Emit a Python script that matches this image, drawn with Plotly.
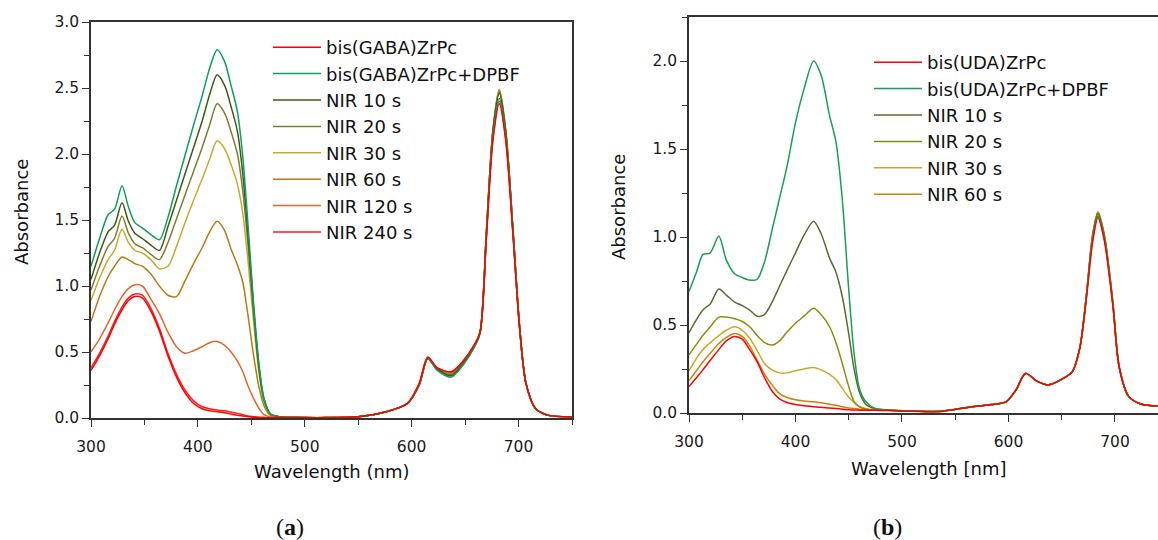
import plotly.graph_objects as go

# ---------------- data: panel (a) ----------------
WL_A = [300, 308, 316, 322, 329, 335, 341, 348, 356, 364, 372, 380, 388, 396, 404, 411, 418, 425, 431, 437,
        442, 447, 452, 457, 462, 468, 476, 490, 520, 550, 575, 596, 607, 615, 624, 637, 648, 659, 664, 670,
        676, 682, 688, 695, 701, 707, 716, 728, 750]

A_GABA = [0.36, 0.47, 0.60, 0.71, 0.82, 0.89, 0.92, 0.91, 0.81, 0.66, 0.47, 0.31, 0.19, 0.11, 0.07, 0.055, 0.048, 0.04, 0.03, 0.02,
          0.015, 0.01, 0.006, 0.004, 0.003, 0.002, 0.003, 0.002, 0.002, 0.01, 0.045, 0.11, 0.26, 0.46, 0.38, 0.35, 0.43, 0.56, 0.65, 1.38,
          2.10, 2.38, 2.10, 1.36, 0.68, 0.26, 0.07, 0.02, 0.01]
A_DPBF = [1.15, 1.36, 1.54, 1.58, 1.76, 1.60, 1.48, 1.44, 1.39, 1.35, 1.52, 1.76, 1.99, 2.22, 2.44, 2.65, 2.79, 2.70, 2.52, 2.32,
          1.98, 1.45, 0.88, 0.42, 0.14, 0.03, 0.01, 0.005, 0.003, 0.01, 0.045, 0.11, 0.25, 0.45, 0.36, 0.31, 0.40, 0.54, 0.64, 1.40,
          2.14, 2.42, 2.14, 1.38, 0.68, 0.26, 0.07, 0.02, 0.01]
A_10 = [1.05, 1.25, 1.41, 1.46, 1.63, 1.49, 1.40, 1.36, 1.31, 1.27, 1.45, 1.65, 1.85, 2.05, 2.25, 2.45, 2.60, 2.52, 2.36, 2.17,
        1.85, 1.38, 0.85, 0.40, 0.14, 0.03, 0.01, 0.005, 0.003, 0.01, 0.045, 0.11, 0.25, 0.45, 0.37, 0.32, 0.41, 0.55, 0.65, 1.42,
        2.17, 2.46, 2.17, 1.40, 0.69, 0.26, 0.07, 0.02, 0.01]
A_20 = [0.97, 1.15, 1.30, 1.36, 1.53, 1.40, 1.32, 1.29, 1.24, 1.20, 1.33, 1.51, 1.69, 1.87, 2.05, 2.22, 2.38, 2.31, 2.17, 2.00,
        1.72, 1.30, 0.80, 0.38, 0.13, 0.03, 0.01, 0.005, 0.003, 0.01, 0.045, 0.11, 0.25, 0.45, 0.37, 0.33, 0.42, 0.55, 0.65, 1.42,
        2.18, 2.48, 2.18, 1.40, 0.69, 0.26, 0.07, 0.02, 0.01]
A_30 = [0.89, 1.06, 1.20, 1.27, 1.43, 1.33, 1.27, 1.25, 1.20, 1.13, 1.15, 1.30, 1.48, 1.65, 1.81, 1.96, 2.10, 2.04, 1.92, 1.77,
        1.55, 1.18, 0.74, 0.35, 0.12, 0.03, 0.01, 0.005, 0.003, 0.01, 0.045, 0.11, 0.25, 0.45, 0.37, 0.33, 0.42, 0.55, 0.65, 1.42,
        2.18, 2.49, 2.18, 1.40, 0.69, 0.26, 0.07, 0.02, 0.01]
A_60 = [0.73, 0.92, 1.07, 1.15, 1.22, 1.20, 1.17, 1.15, 1.09, 1.00, 0.93, 0.92, 1.04, 1.17, 1.29, 1.41, 1.49, 1.42, 1.28, 1.16,
        1.03, 0.77, 0.48, 0.24, 0.09, 0.02, 0.005, 0.004, 0.003, 0.01, 0.045, 0.11, 0.25, 0.45, 0.37, 0.33, 0.42, 0.55, 0.65, 1.42,
        2.18, 2.49, 2.18, 1.40, 0.69, 0.26, 0.07, 0.02, 0.01]
A_120 = [0.50, 0.60, 0.72, 0.82, 0.92, 0.98, 1.01, 1.00, 0.90, 0.79, 0.65, 0.54, 0.49, 0.51, 0.54, 0.57, 0.58, 0.55, 0.50, 0.43,
         0.35, 0.24, 0.15, 0.075, 0.025, 0.008, 0.004, 0.003, 0.003, 0.01, 0.045, 0.11, 0.25, 0.45, 0.37, 0.34, 0.42, 0.55, 0.65, 1.40,
         2.16, 2.47, 2.16, 1.39, 0.69, 0.26, 0.07, 0.02, 0.01]
A_240 = [0.38, 0.49, 0.62, 0.73, 0.84, 0.91, 0.94, 0.93, 0.83, 0.68, 0.49, 0.33, 0.21, 0.13, 0.085, 0.07, 0.06, 0.055, 0.045, 0.035,
         0.025, 0.015, 0.01, 0.006, 0.004, 0.003, 0.003, 0.002, 0.002, 0.01, 0.045, 0.11, 0.26, 0.46, 0.38, 0.35, 0.43, 0.56, 0.65, 1.39,
         2.12, 2.40, 2.12, 1.37, 0.68, 0.26, 0.07, 0.02, 0.01]

NAMES_A = ["bis(GABA)ZrPc", "bis(GABA)ZrPc+DPBF", "NIR 10 s", "NIR 20 s", "NIR 30 s", "NIR 60 s", "NIR 120 s", "NIR 240 s"]
SERIES_A = [A_GABA, A_DPBF, A_10, A_20, A_30, A_60, A_120, A_240]
COLORS_A = ["#FF0000", "#0E9F5B", "#3D5A16", "#7F7C34", "#C9A833", "#B97A14", "#E2662A", "#FF1A1A"]

# ---------------- data: panel (b) ----------------
WL_B = [300, 307, 313, 320, 328, 335, 343, 350, 357, 364, 371, 378, 385, 392, 400, 408, 417, 424, 432, 438,
        444, 450, 455, 460, 466, 474, 488, 510, 535, 566, 590, 598, 607, 616, 627, 638, 651, 660, 667, 673,
        679, 684, 690, 698, 704, 713, 725, 740]

B_UDA = [0.15, 0.20, 0.245, 0.30, 0.36, 0.41, 0.435, 0.42, 0.36, 0.29, 0.20, 0.125, 0.08, 0.06, 0.048, 0.041, 0.036, 0.033, 0.028, 0.025,
         0.022, 0.018, 0.017, 0.016, 0.015, 0.015, 0.014, 0.01, 0.008, 0.036, 0.052, 0.064, 0.13, 0.225, 0.18, 0.16, 0.195, 0.235, 0.37, 0.64,
         0.97, 1.11, 0.98, 0.61, 0.26, 0.093, 0.05, 0.04]
B_DPBF = [0.69, 0.80, 0.90, 0.91, 1.005, 0.87, 0.79, 0.77, 0.755, 0.76, 0.86, 1.04, 1.22, 1.40, 1.65, 1.84, 2.00, 1.92, 1.69, 1.54,
          1.21, 0.70, 0.34, 0.14, 0.065, 0.028, 0.017, 0.012, 0.01, 0.036, 0.052, 0.064, 0.13, 0.225, 0.18, 0.16, 0.195, 0.235, 0.37, 0.65,
          0.99, 1.12, 0.99, 0.62, 0.26, 0.093, 0.05, 0.04]
B_10 = [0.456, 0.53, 0.585, 0.62, 0.705, 0.67, 0.63, 0.61, 0.585, 0.55, 0.56, 0.63, 0.72, 0.81, 0.91, 1.01, 1.09, 1.02, 0.88, 0.80,
        0.66, 0.45, 0.25, 0.12, 0.05, 0.026, 0.016, 0.011, 0.009, 0.036, 0.052, 0.064, 0.13, 0.225, 0.18, 0.16, 0.195, 0.235, 0.37, 0.66,
        1.00, 1.13, 1.00, 0.62, 0.26, 0.093, 0.05, 0.04]
B_20 = [0.33, 0.39, 0.44, 0.49, 0.545, 0.545, 0.535, 0.52, 0.49, 0.44, 0.40, 0.386, 0.41, 0.46, 0.51, 0.55, 0.595, 0.56, 0.49, 0.40,
        0.28, 0.15, 0.065, 0.035, 0.022, 0.017, 0.015, 0.011, 0.009, 0.036, 0.052, 0.064, 0.13, 0.225, 0.18, 0.16, 0.195, 0.235, 0.37, 0.66,
        1.01, 1.14, 1.01, 0.63, 0.26, 0.093, 0.05, 0.04]
B_30 = [0.24, 0.31, 0.36, 0.40, 0.44, 0.47, 0.49, 0.47, 0.425, 0.355, 0.28, 0.245, 0.228, 0.228, 0.24, 0.25, 0.258, 0.245, 0.22, 0.19,
        0.14, 0.09, 0.06, 0.037, 0.025, 0.018, 0.015, 0.011, 0.009, 0.036, 0.052, 0.064, 0.13, 0.225, 0.18, 0.16, 0.195, 0.235, 0.37, 0.66,
        1.01, 1.14, 1.01, 0.63, 0.26, 0.093, 0.05, 0.04]
B_60 = [0.184, 0.24, 0.29, 0.34, 0.395, 0.43, 0.452, 0.435, 0.38, 0.30, 0.22, 0.16, 0.11, 0.088, 0.075, 0.068, 0.064, 0.058, 0.05, 0.044,
        0.036, 0.029, 0.025, 0.022, 0.02, 0.018, 0.015, 0.011, 0.009, 0.036, 0.052, 0.064, 0.13, 0.225, 0.18, 0.16, 0.195, 0.235, 0.37, 0.66,
        1.01, 1.14, 1.01, 0.63, 0.26, 0.093, 0.05, 0.04]

NAMES_B = ["bis(UDA)ZrPc", "bis(UDA)ZrPc+DPBF", "NIR 10 s", "NIR 20 s", "NIR 30 s", "NIR 60 s"]
SERIES_B = [B_UDA, B_DPBF, B_10, B_20, B_30, B_60]
COLORS_B = ["#FF0000", "#1A9E55", "#5A6B2E", "#8C8C10", "#CCA62A", "#C8860A"]

X_TICKS = [300, 400, 500, 600, 700]
XLABEL_A = "Wavelength (nm)"
XLABEL_B = "Wavelength [nm]"
YLABEL = "Absorbance"

# ---------------- figure ----------------
W, H = 1158, 540
FONT = "DejaVu Sans, Liberation Sans, Arial, sans-serif"

fig = go.Figure()

# draw in reverse so the first legend entry sits on top
for name, ys, col in reversed(list(zip(NAMES_A, SERIES_A, COLORS_A))):
    fig.add_trace(go.Scatter(x=WL_A, y=ys, name=name, mode="lines",
                             line=dict(color=col, width=1.5, shape="spline", smoothing=0.8),
                             xaxis="x", yaxis="y", legend="legend"))
for name, ys, col in reversed(list(zip(NAMES_B, SERIES_B, COLORS_B))):
    fig.add_trace(go.Scatter(x=WL_B, y=ys, name=name, mode="lines",
                             line=dict(color=col, width=1.5, shape="spline", smoothing=0.8),
                             xaxis="x2", yaxis="y2", legend="legend2"))


def px(x):
    return x / W


def py(y):
    return 1 - y / H


axis_common = dict(showgrid=False, zeroline=False, showline=True, linecolor="#333333", linewidth=1.5,
                   ticks="outside", ticklen=7, tickwidth=1.3, tickcolor="#333333",
                   tickfont=dict(family=FONT, size=15.5, color="#1a1a1a"),
                   minor=dict(ticks="outside", ticklen=5, tickwidth=1.3, tickcolor="#333333", showgrid=False))

fig.update_layout(
    width=W, height=H,
    margin=dict(l=0, r=0, t=0, b=0, autoexpand=False),
    paper_bgcolor="white", plot_bgcolor="white",
    showlegend=True,
    xaxis=dict(domain=[px(91), px(572)], range=[300, 750], tickvals=X_TICKS, anchor="y", mirror=True,
               ticklabelstandoff=7, minor_dtick=50, minor_tick0=300, **axis_common),
    yaxis=dict(domain=[py(418), py(22)], range=[0, 3.0], dtick=0.5, tick0=0, tickformat=".1f",
               anchor="x", mirror=True, minor_dtick=0.25, minor_tick0=0, **axis_common),
    xaxis2=dict(domain=[px(689), 1.0], range=[300, 740.4], tickvals=X_TICKS, anchor="y2", mirror=True,
                ticklabelstandoff=7, minor_dtick=50, minor_tick0=300, **axis_common),
    yaxis2=dict(domain=[py(413), py(17)], range=[0, 2.25], dtick=0.5, tick0=0, tickformat=".1f",
                anchor="x2", mirror=False, minor_dtick=0.25, minor_tick0=0, **axis_common),
    legend=dict(x=px(268), y=py(29), xanchor="left", yanchor="top", traceorder="reversed",
                bgcolor="rgba(0,0,0,0)", borderwidth=0, itemwidth=48,
                font=dict(family=FONT, size=18, color="#111111")),
    legend2=dict(x=px(869), y=py(44), xanchor="left", yanchor="top", traceorder="reversed",
                 bgcolor="rgba(0,0,0,0)", borderwidth=0, itemwidth=48,
                 font=dict(family=FONT, size=18, color="#111111")),
)

title_font = dict(family=FONT, size=18, color="#111111")
annotations = [
    dict(text=YLABEL, x=px(21), y=py(212), textangle=-90, font=title_font),
    dict(text=YLABEL, x=px(619), y=py(207), textangle=-90, font=title_font),
    dict(text=XLABEL_A, x=px(332), y=py(471), font=title_font),
    dict(text=XLABEL_B, x=px(929), y=py(468), font=title_font),
    dict(text="(<b>a</b>)", x=px(290), y=py(527),
         font=dict(family="Liberation Serif, Times New Roman, serif", size=24, color="#111111")),
    dict(text="(<b>b</b>)", x=px(887), y=py(527),
         font=dict(family="Liberation Serif, Times New Roman, serif", size=24, color="#111111")),
]
for a in annotations:
    a.update(xref="paper", yref="paper", showarrow=False, xanchor="center", yanchor="middle")
fig.update_layout(annotations=annotations)

fig.write_html("out.html", config={"displayModeBar": False},
               post_script="document.body.style.margin='0px';document.body.style.overflow='hidden';")
